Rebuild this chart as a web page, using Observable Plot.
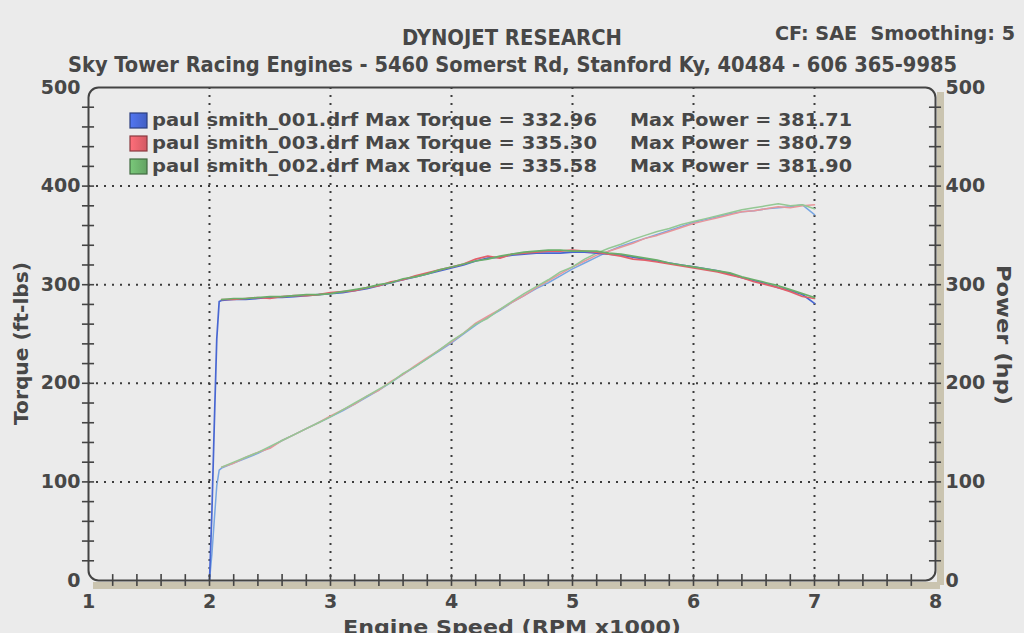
<!DOCTYPE html>
<html><head><meta charset="utf-8">
<script src="https://cdn.jsdelivr.net/npm/d3@7"></script>
<script src="https://cdn.jsdelivr.net/npm/@observablehq/plot@0.6"></script>
<style>
html,body{margin:0;padding:0;background:#ebebeb;width:1024px;height:633px;overflow:hidden}
#wrap{position:relative;width:1024px;height:633px}
#chart{position:absolute;left:0;top:0}
#overlay{position:absolute;left:0;top:0}
</style></head><body>
<div id="wrap"><div id="chart"></div><svg id="overlay" width="1024" height="633"></svg></div>
<script>
// ---------- data ----------
const runs = ["paul smith_001.drf", "paul smith_003.drf", "paul smith_002.drf"];
const maxTorque = ["332.96", "335.30", "335.58"];
const maxPower = ["381.71", "380.79", "381.90"];

const rpm = [2.1,2.2,2.3,2.4,2.5,2.6,2.7,2.8,2.9,3.0,
             3.1,3.2,3.3,3.4,3.5,3.6,3.7,3.8,3.9,4.0,
             4.1,4.2,4.3,4.4,4.5,4.6,4.7,4.8,4.9,5.0,
             5.1,5.2,5.3,5.4,5.5,5.6,5.7,5.8,5.9,6.0,
             6.1,6.2,6.3,6.4,6.5,6.6,6.7,6.8,6.9,7.0];

const torque001 = [284,285,285,286,287,287,288,289,290,291,
                   292,294,296,299,302,305,308,311,314,317,
                   320,324,327,328,330,331,332,332,332,333,
                   333,332,331,330,328,326,324,322,320,318,
                   316,314,311,307,304,301,297,294,290,281];
const torque003 = [285,285,286,287,286,288,289,289,290,292,
                   293,294,297,299,303,305,309,312,315,318,
                   321,326,329,327,331,332,333,334,334,335,
                   334,333,331,329,326,325,323,321,319,317,
                   315,313,310,307,303,300,297,293,288,286];
const torque002 = [285,286,286,287,288,288,289,290,290,291,
                   293,295,297,300,302,306,308,311,315,318,
                   321,324,326,329,331,333,334,335,335,334,
                   334,334,332,331,329,327,325,322,320,318,
                   316,314,312,308,305,302,299,295,291,287];

const power001 = [114,119,124,129,135,142,148,154,160,166,
                  172,179,186,193,201,209,217,225,233,241,
                  250,259,267,274,282,289,296,302,309,316,
                  322,328,334,339,343,347,351,355,359,363,
                  366,369,372,374,375,377,378,379,381,371];
const power003 = [115,119,125,130,134,142,148,154,160,167,
                  173,179,187,193,202,209,218,226,234,242,
                  251,261,268,275,282,289,297,304,311,318,
                  324,330,334,338,342,347,350,354,358,362,
                  365,368,371,374,375,377,379,378,380,381];
const power002 = [115,120,125,130,136,142,148,154,160,166,
                  173,180,187,194,201,210,217,225,234,243,
                  251,260,266,275,283,291,298,305,313,318,
                  326,332,337,341,346,350,354,357,361,364,
                  367,370,373,376,378,380,382,380,381,377];

// launch (only run 001 visible)
const launchRpm001 = [2.00, 2.02, 2.04, 2.06, 2.08];
const launchTorque001 = [0, 70, 160, 245, 283];
const launchPower001 = [0, 27, 62, 96, 112];

const xTickLabels = [1,2,3,4,5,6,7,8];
const yTickLabels = [0,100,200,300,400,500];
const xGrid = [2,3,4,5,6,7];
const yGrid = [100,200,300,400];

// ---------- styling ----------
const torqueColors = ["#4766d2", "#e2606a", "#6aae6a"];
const powerColors  = ["#78a6e2", "#e8969a", "#94c894"];
const ink = "#474747";

const torqueSeries = [torque001, torque003, torque002];
const powerSeries  = [power001, power003, power002];

function rowsFor(i, series, launch) {
  const rows = [];
  if (i === 0) launchRpm001.forEach((r, j) => rows.push({rpm: r, v: launch[j]}));
  rpm.forEach((r, j) => rows.push({rpm: r, v: series[i][j]}));
  return rows;
}

const minorX = d3.range(1.2, 7.9, 0.2);
const minorY = d3.range(20, 490, 20);

const lineMarks = [];
[0,1,2].forEach(i => {
  lineMarks.push(Plot.line(rowsFor(i, powerSeries, launchPower001), {x: "rpm", y: "v", stroke: powerColors[i], strokeWidth: 1.5}));
});
[0,1,2].forEach(i => {
  lineMarks.push(Plot.line(rowsFor(i, torqueSeries, launchTorque001), {x: "rpm", y: "v", stroke: torqueColors[i], strokeWidth: 1.7}));
});

const tickStyle = {stroke: "#444", strokeWidth: 1.6};
const chart = Plot.plot({
  width: 1024, height: 633,
  marginTop: 87, marginBottom: 53, marginLeft: 88, marginRight: 89,
  x: {domain: [1, 8], label: null},
  y: {domain: [0, 500], label: null},
  style: {background: "transparent", fontFamily: "'DejaVu Sans', Verdana, sans-serif", fontWeight: "bold", color: ink, overflow: "visible"},
  marks: [
    Plot.ruleX([8], {dx: 5, dy: 5, stroke: "#cac4b0", strokeWidth: 7}),
    Plot.ruleY([0], {dx: 5, dy: 5, stroke: "#cac4b0", strokeWidth: 7}),
    Plot.gridX(xGrid, {stroke: "#3c3c3c", strokeOpacity: 1, strokeWidth: 2, strokeDasharray: "2,6"}),
    Plot.gridY(yGrid, {stroke: "#3c3c3c", strokeOpacity: 1, strokeWidth: 2, strokeDasharray: "2,6"}),
    ...lineMarks,
    Plot.frame({stroke: "#444", strokeWidth: 2, rx: 10}),
    // crossing minor ticks
    Plot.ruleX(minorX, {x: d => d, y1: -6, y2: 6, ...tickStyle}),
    Plot.ruleY(minorY, {y: d => d, x1: 0.95, x2: 1.05, ...tickStyle}),
    Plot.ruleY(minorY, {y: d => d, x1: 7.95, x2: 8.05, ...tickStyle}),
    Plot.axisX(xTickLabels, {tickSize: 0, tickPadding: 14, fontSize: 19, fontWeight: "bold", tickFormat: d => String(d), label: null}),
    Plot.axisY(yTickLabels, {anchor: "left", tickSize: 0, tickPadding: 8, fontSize: 19, fontWeight: "bold", tickFormat: d => String(d), label: null}),
    Plot.axisY(yTickLabels, {anchor: "right", tickSize: 0, tickPadding: 10, fontSize: 19, fontWeight: "bold", tickFormat: d => String(d), label: null})
  ]
});
document.getElementById("chart").appendChild(chart);

// ---------- header, legend, axis titles ----------
const ov = d3.select("#overlay").attr("font-weight", "bold").attr("fill", ink);
const cond = "'DejaVu Sans Condensed','Liberation Sans Narrow','DejaVu Sans',sans-serif";
const wide = "'DejaVu Sans',Verdana,sans-serif";

function txt(s, x, y, len, size, family, rot) {
  const t = ov.append("text").text(s).attr("x", x).attr("y", y)
    .attr("font-size", size).attr("font-family", family)
    .attr("textLength", len).attr("lengthAdjust", "spacingAndGlyphs");
  if (rot) t.attr("transform", `rotate(${rot},${x},${y})`);
  return t;
}
txt("DYNOJET RESEARCH", 402, 45, 220, 21, cond);
txt("CF: SAE  Smoothing: 5", 775, 40, 240, 19, cond).attr("xml:space", "preserve").style("white-space", "pre");
txt("Sky Tower Racing Engines - 5460 Somerst Rd, Stanford Ky, 40484 - 606 365-9985", 68, 72, 889, 21, cond);

// legend
const defs = ov.append("defs");
const swatchY = [113, 136, 159];
const baseY = [126, 149, 172];
runs.forEach((r, i) => {
  const g = defs.append("linearGradient").attr("id", "sw" + i).attr("x1", 0).attr("x2", 1).attr("y1", 0).attr("y2", 0);
  g.append("stop").attr("offset", "0%").attr("stop-color", d3.color(torqueColors[i]).brighter(0.4));
  g.append("stop").attr("offset", "100%").attr("stop-color", d3.color(torqueColors[i]).darker(0.2));
  ov.append("rect").attr("x", 130).attr("y", swatchY[i]).attr("width", 17).attr("height", 15)
    .attr("fill", `url(#sw${i})`).attr("stroke", d3.color(torqueColors[i]).darker(1.4)).attr("stroke-width", 1.2);
  txt(`${r} Max Torque = ${maxTorque[i]}`, 152, baseY[i], 445, 18, wide);
  txt(`Max Power = ${maxPower[i]}`, 630, baseY[i], 222, 18, wide);
});

// axis titles
txt("Torque (ft-lbs)", 28, 425, 163, 20, wide, -90);
txt("Power (hp)", 997, 265, 140, 20, wide, 90);
txt("Engine Speed (RPM x1000)", 343, 634, 338, 20, wide);
</script>
</body></html>
